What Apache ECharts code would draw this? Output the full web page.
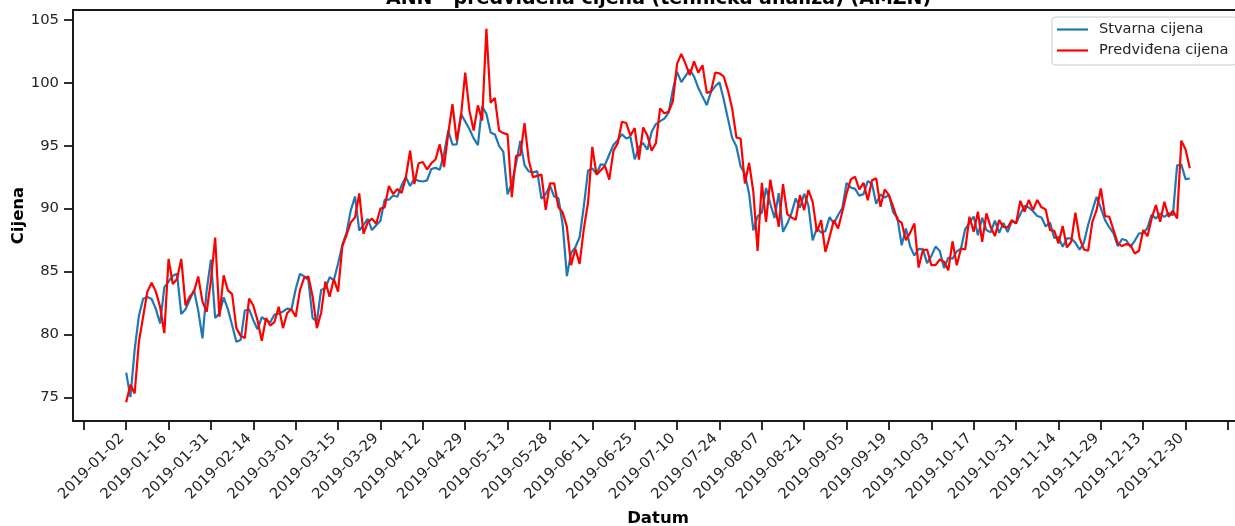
<!DOCTYPE html>
<html><head><meta charset="utf-8">
<script src="https://cdn.jsdelivr.net/npm/echarts@6/dist/echarts.min.js"></script>
<style>html,body{margin:0;padding:0;background:#fff}#c{width:1235px;height:526px}</style>
</head><body><div id="c"></div>
<script>
// Trading-day index of each labelled tick, and its date label
const tickIndex = [0,10,20,30,40,50,60,70,80,90,100,110,120,130,140,150,160,170,180,190,200,210,220,230,240,250];
const tickLabels = ['2019-01-02','2019-01-16','2019-01-31','2019-02-14','2019-03-01','2019-03-15','2019-03-29','2019-04-12','2019-04-29','2019-05-13','2019-05-28','2019-06-11','2019-06-25','2019-07-10','2019-07-24','2019-08-07','2019-08-21','2019-09-05','2019-09-19','2019-10-03','2019-10-17','2019-10-31','2019-11-14','2019-11-29','2019-12-13','2019-12-30'];
const tickMarks = [-10,0,10,20,30,40,50,60,70,80,90,100,110,120,130,140,150,160,170,180,190,200,210,220,230,240,250,260];
const yTicks = [75,80,85,90,95,100,105];

const stvarna = [
76.96,75.01,78.77,81.48,82.83,82.97,82.81,82.03,80.86,83.73,84.19,84.66,84.81,81.61,82.00,82.75,83.53,81.89,79.69,83.52,85.94,
81.31,81.67,82.94,82.01,80.72,79.41,79.55,81.90,82.00,81.13,80.40,81.38,81.11,80.97,81.58,81.65,81.82,82.05,81.99,
83.59,84.81,84.62,84.30,81.30,81.04,83.53,83.66,84.54,84.31,85.62,87.11,88.09,89.86,90.96,88.24,88.71,89.19,88.29,88.67,89.04,
90.71,90.70,91.04,90.94,91.86,92.49,91.79,92.37,92.20,92.15,92.24,93.15,93.24,93.08,94.37,96.19,95.09,95.11,97.53,96.92,96.33,
95.58,95.04,98.12,97.53,96.05,95.89,94.99,94.50,91.13,92.01,93.56,95.38,93.45,92.95,92.88,92.98,90.77,91.16,91.82,90.96,90.82,88.75,
84.63,86.48,86.93,87.72,90.20,93.03,93.19,92.77,93.52,93.48,94.30,95.07,95.44,95.91,95.57,95.70,93.91,94.89,95.21,94.68,
96.11,96.72,96.95,97.15,97.62,99.42,100.87,100.05,100.55,101.05,100.50,99.60,98.90,98.23,99.28,99.72,100.04,98.69,97.15,95.62,94.93,93.34,
92.77,91.16,88.26,89.39,89.67,91.64,90.38,89.25,91.22,88.15,88.81,89.63,90.81,90.07,91.18,90.23,87.48,88.44,88.09,88.21,89.32,88.81,
89.49,90.03,92.04,91.68,91.57,91.03,91.15,92.18,91.97,90.39,91.13,90.87,91.08,89.71,89.27,87.08,88.42,86.99,86.27,86.80,
86.78,85.66,86.22,86.98,86.63,85.28,86.10,86.01,86.60,86.82,88.37,88.87,89.37,87.88,89.28,88.29,88.11,89.04,88.07,88.85,88.14,89.00,88.83,
89.57,90.23,90.09,89.79,89.41,89.29,88.58,88.90,87.66,87.73,86.97,87.63,87.64,87.28,86.74,87.29,88.69,89.85,90.93,90.04,
89.08,88.50,88.03,87.02,87.58,87.48,86.96,87.44,88.02,88.05,88.46,89.53,89.20,89.61,89.33,89.65,89.46,93.44,93.49,92.34,92.39
];

const predvidjena = [
74.6,76.0,75.3,79.4,81.4,83.4,84.1,83.4,82.2,80.1,
86.0,84.0,84.4,86.0,82.3,83.0,83.4,84.6,82.6,81.8,
84.3,87.7,81.4,84.7,83.5,83.2,80.5,79.9,79.7,82.85,
82.3,81.1,79.5,81.3,80.7,81.0,82.2,80.5,81.7,82.0,
81.4,83.5,84.5,84.6,83.0,80.5,81.7,84.2,83.0,84.4,
83.4,87.0,87.9,88.9,89.3,91.2,88.0,88.9,89.2,88.8,
90.0,90.1,91.8,91.15,91.55,91.25,92.5,94.6,91.95,93.6,
93.7,93.1,93.6,93.9,95.1,93.3,95.97,98.3,95.4,97.3,
100.8,97.8,96.2,98.2,97.0,104.3,98.4,98.8,96.2,96.0,
95.9,90.9,94.2,94.25,96.8,93.85,92.5,92.6,92.7,89.9,
92.0,92.0,90.1,89.7,88.55,85.5,86.8,85.6,88.4,90.5,
94.9,92.7,93.05,93.4,92.3,94.6,95.2,96.9,96.8,95.8,
96.4,93.9,96.45,95.8,94.6,95.2,97.96,97.57,97.7,98.5,
101.5,102.3,101.5,100.6,101.7,100.8,101.4,99.2,99.3,100.8,
100.75,100.5,99.4,97.96,95.66,95.55,92.0,93.64,91.33,86.64,
92.05,88.95,92.3,90.4,88.55,91.94,89.56,89.3,89.1,91.07,
89.88,91.47,90.54,88.15,89.08,86.56,87.75,89.08,88.42,89.74,
91.2,92.32,92.53,91.52,92.05,90.67,92.26,92.4,90.14,91.52,
91.07,90.14,89.13,88.87,87.49,88.07,88.81,85.31,86.69,86.75,
85.5,85.5,85.95,85.77,85.1,87.4,85.5,86.83,86.75,89.35,
88.16,89.75,87.36,89.62,88.55,87.81,89.08,88.55,88.5,89.08,
88.82,90.62,89.75,90.68,89.88,90.68,90.1,89.93,88.29,88.24,
87.23,88.61,86.91,87.36,89.67,87.63,86.75,86.65,88.95,89.88,
91.6,89.4,89.35,88.29,87.23,87.02,87.18,87.1,86.43,86.65,
88.29,87.81,89.22,90.28,88.95,90.54,89.35,89.83,89.22,95.4,
94.7,93.2
];

const FONT = 'DejaVu Sans';
const INK = '#262626';
const labelMap = {};
tickIndex.forEach((t, k) => { labelMap[t] = tickLabels[k]; });

const chart = echarts.init(document.getElementById('c'), null, {renderer: 'canvas'});
chart.setOption({
  animation: false,
  backgroundColor: '#fff',
  title: {
    text: 'ANN - predviđena cijena (tehnička analiza) (AMZN)',
    left: 386, top: -10, padding: 0,
    textStyle: {fontFamily: FONT, fontSize: 19, fontWeight: 'bold', color: '#000'}
  },
  legend: {
    orient: 'vertical', left: 1052, top: 17,
    padding: [2, 8, 4, 5], itemGap: 0, itemWidth: 31, itemHeight: 2.2, icon: 'rect',
    backgroundColor: 'rgba(255,255,255,0.8)', borderColor: '#cccccc', borderWidth: 1, borderRadius: 3,
    textStyle: {fontFamily: FONT, fontSize: 14.6, color: INK, lineHeight: 21, padding: [0, 0, 0, 6]},
    data: ['Stvarna cijena', 'Predviđena cijena']
  },
  grid: {left: 73, top: 10, width: 1170, height: 411, show: true, borderColor: '#1a1a1a', borderWidth: 1.8,
         containLabel: false, outerBoundsMode: 'none'},
  xAxis: {
    type: 'value', min: -12.55, max: 263.55,
    name: 'Datum', nameLocation: 'middle', nameGap: 89, nameMoveOverlap: false,
    nameTextStyle: {fontFamily: FONT, fontSize: 16.5, fontWeight: 'bold', color: '#000'},
    axisLine: {show: true, onZero: false, lineStyle: {color: '#1a1a1a', width: 1.8}},
    axisTick: {show: true, length: 9, lineStyle: {color: '#1a1a1a', width: 1.8}, customValues: tickMarks},
    axisLabel: {
      rotate: 45, margin: 11, padding: [0, 6, 0, 0],
      fontFamily: FONT, fontSize: 14.8, color: INK,
      customValues: tickIndex, hideOverlap: false,
      formatter: v => labelMap[Math.round(v)] || ''
    },
    splitLine: {show: false}
  },
  yAxis: {
    type: 'value', min: 73.115, max: 105.785,
    name: 'Cijena', nameLocation: 'middle', nameGap: 46, nameMoveOverlap: false,
    nameTextStyle: {fontFamily: FONT, fontSize: 16.5, fontWeight: 'bold', color: '#000'},
    axisLine: {show: true, onZero: false, lineStyle: {color: '#1a1a1a', width: 1.8}},
    axisTick: {show: true, length: 9, lineStyle: {color: '#1a1a1a', width: 1.8}, customValues: yTicks},
    axisLabel: {margin: 14, fontFamily: FONT, fontSize: 14.8, color: INK, customValues: yTicks},
    splitLine: {show: false}
  },
  series: [
    {name: 'Stvarna cijena', type: 'line', symbol: 'none', data: stvarna.map((v, i) => [i, v]),
     lineStyle: {color: '#1f77b4', width: 2.2}, itemStyle: {color: '#1f77b4'}},
    {name: 'Predviđena cijena', type: 'line', symbol: 'none', data: predvidjena.map((v, i) => [i, v]),
     lineStyle: {color: '#ff0000', width: 2.2}, itemStyle: {color: '#ff0000'}}
  ]
});
</script></body></html>
